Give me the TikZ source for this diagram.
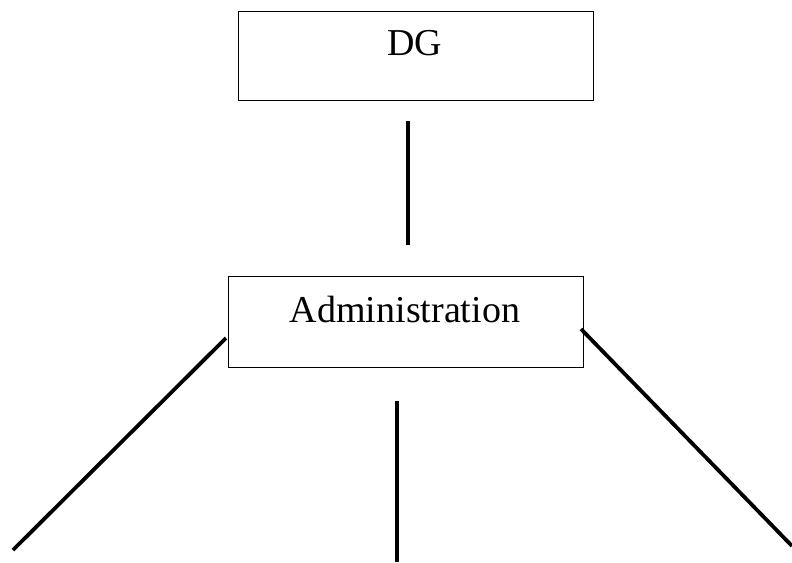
\documentclass[tikz,border=0pt]{standalone}
\usepackage{fontspec}
\setmainfont{Liberation Serif}
\begin{document}
\begin{tikzpicture}[x=1pt,y=-1pt,
  orgbox/.style={draw, line width=1.3pt, inner sep=0pt, anchor=north west},
  lbl/.style={font=\fontsize{38}{42}\selectfont, inner sep=0pt, anchor=base},
  link/.style={line width=3.8pt}]
\useasboundingbox (0,0) rectangle (792,562);
\node[orgbox, minimum width=355pt, minimum height=89pt] (dg) at (238,11) {};
\node[lbl] (dgt) at (415,55) {DG};
\node[orgbox, minimum width=355pt, minimum height=91pt] (adm) at (228,276) {};
\node[lbl] (admt) at (405,322) {Administration};
\coordinate (a1) at (408,121);
\coordinate (a2) at (408,245);
\coordinate (l1) at (226,338);
\coordinate (l2) at (13,550);
\coordinate (m1) at (397,401);
\coordinate (m2) at (397,562);
\coordinate (r1) at (581,329);
\coordinate (r2) at (792,546);
\draw[link] (a1) -- (a2);
\draw[link] (l1) -- (l2);
\draw[link] (m1) -- (m2);
\draw[link] (r1) -- (r2);
\end{tikzpicture}
\end{document}
